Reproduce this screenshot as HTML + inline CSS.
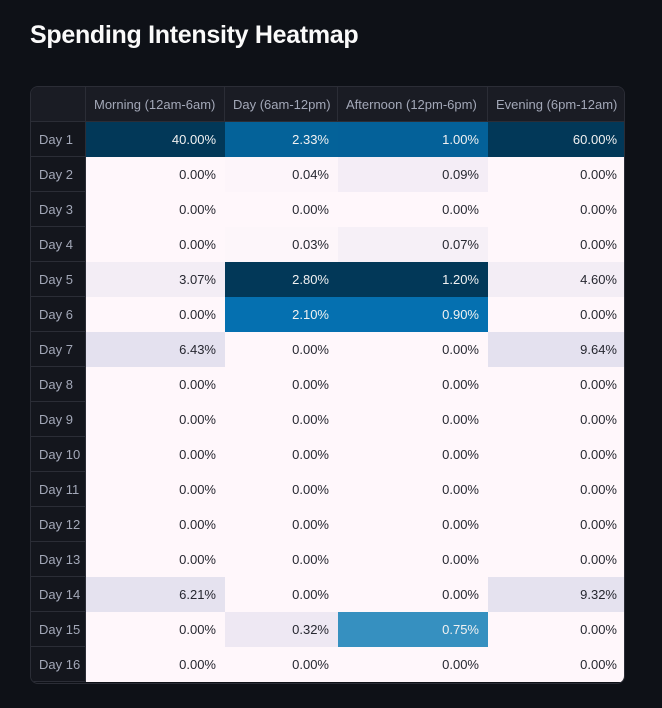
<!DOCTYPE html>
<html><head><meta charset="utf-8">
<style>
body{margin:0;background:#0e1117;width:662px;height:708px;overflow:hidden;font-family:"Liberation Sans",sans-serif;}
h1{position:absolute;left:30px;top:21px;margin:0;color:#fafafa;font-size:25px;font-weight:bold;letter-spacing:-0.3px;}
#tbl{position:absolute;left:30px;top:86px;width:595px;height:598px;border:1px solid #2b2d36;border-radius:8px;overflow:hidden;background:#0e1117;box-sizing:border-box;}
.c{position:absolute;box-sizing:border-box;font-size:13px;line-height:35px;white-space:nowrap;}
.h{background:#1a1c24;color:#a3a8b8;text-align:left;padding-left:8px;border-right:1px solid #2b2d36;border-bottom:1px solid #2b2d36;}
.ix{background:#14161d;color:#a3a8b8;padding-left:8px;border-right:1px solid #2b2d36;border-bottom:1px solid #2b2d36;}
.v{text-align:right;padding-right:9px;}
</style></head><body>
<h1>Spending Intensity Heatmap</h1>
<div id="tbl"></div>
<script>
const columns=["Morning (12am-6am)","Day (6am-12pm)","Afternoon (12pm-6pm)","Evening (6pm-12am)"];
const rowsLabels=["Day 1","Day 2","Day 3","Day 4","Day 5","Day 6","Day 7","Day 8","Day 9","Day 10","Day 11","Day 12","Day 13","Day 14","Day 15","Day 16"];
const morning=[40.00,0,0,0,3.07,0,6.43,0,0,0,0,0,0,6.21,0,0];
const day=[2.33,0.04,0,0.03,2.80,2.10,0,0,0,0,0,0,0,0,0.32,0];
const afternoon=[1.00,0.09,0,0.07,1.20,0.90,0,0,0,0,0,0,0,0,0.75,0];
const evening=[60.00,0,0,0,4.60,0,9.64,0,0,0,0,0,0,9.32,0,0];
const series=[morning,day,afternoon,evening];
const pubu=["#fff7fb","#ece7f2","#d0d1e6","#a6bddb","#74a9cf","#3690c0","#0570b0","#045a8d","#023858"];
function hex(h){return [1,3,5].map(i=>parseInt(h.substr(i,2),16));}
function cmap(t){t=Math.max(0,Math.min(1,t));const p=t*8,i=Math.min(7,Math.floor(p)),f=p-i;const a=hex(pubu[i]),b=hex(pubu[i+1]);return a.map((v,k)=>Math.round(v+(b[k]-v)*f));}
function lum(c){const l=c.map(v=>{v/=255;return v<=0.03928?v/12.92:Math.pow((v+0.055)/1.055,2.4)});return 0.2126*l[0]+0.7152*l[1]+0.0722*l[2];}
const tbl=document.getElementById('tbl');
const colX=[0,55,194,307,457,595];const headH=35,rowH=35;
function cell(x,y,w,h,cls,txt){const d=document.createElement('div');d.className='c '+cls;d.style.left=x+'px';d.style.top=y+'px';d.style.width=w+'px';d.style.height=h+'px';d.textContent=txt;tbl.appendChild(d);return d;}
const corner=cell(0,0,55,headH,'h','');


columns.forEach((c,j)=>{const d=cell(colX[j+1],0,colX[j+2]-colX[j+1],headH,'h',c);

});
rowsLabels.forEach((r,i)=>{const y=headH+i*rowH;
const d=cell(0,y,55,rowH,'ix',r);


series.forEach((s,j)=>{const mx=Math.max(...s),mn=Math.min(...s);const col=cmap((s[i]-mn)/(mx-mn||1));
const e=cell(colX[j+1],y,colX[j+2]-colX[j+1],rowH,'v',s[i].toFixed(2)+'%');
e.style.background='rgb('+col.join(',')+')';e.style.color=lum(col)<0.408?'#f1f1f1':'#262730';

});});
</script>
</body></html>
